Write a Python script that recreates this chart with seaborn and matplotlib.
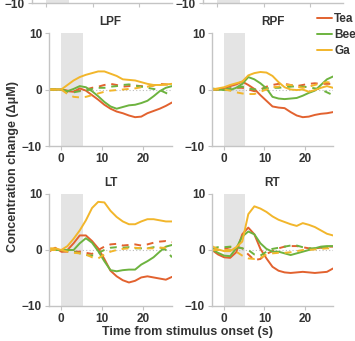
import seaborn as sns
import matplotlib.pyplot as plt
import pandas as pd

# time axis (s)
t = [-3, -1.5, 0, 1.5, 3, 4.5, 6, 7.5, 9, 10.5, 12, 13.5, 15, 16.5, 18, 19.5, 21, 22.5, 24, 25.5, 27]

regions = ["LPF", "RPF", "LT", "RT"]
odors = ["Tea", "Bee", "Ga"]

# solid = stimulus, dashed = control
lpf_tea = [0, 0, 0, -0.3, -0.4, 0.2, -0.2, -1.0, -1.8, -2.7, -3.4, -3.9, -4.2, -4.6, -4.9, -4.8, -4.2, -3.8, -3.4, -2.9, -2.3]
lpf_bee = [0, 0, 0, -0.3, 0.1, 0.6, 0.4, -0.3, -1.2, -2.2, -3.0, -3.4, -3.1, -2.8, -2.7, -2.4, -2.0, -1.2, -0.3, 0.3, 0.6]
lpf_ga = [0, 0, 0, 0.8, 1.6, 2.2, 2.6, 2.9, 3.2, 3.2, 2.8, 2.4, 1.8, 1.7, 1.6, 1.3, 1.0, 0.8, 0.8, 0.9, 1.0]
lpf_tea_c = [0, 0, 0, -0.2, -0.3, -0.2, 0, 0.3, 0.5, 0.8, 1.0, 0.8, 0.5, 0.6, 0.7, 0.6, 0.5, 0.7, 1.0, 0.9, 0.8]
lpf_bee_c = [0, 0, 0, -0.4, -0.5, -0.3, -0.2, 0.1, 0.3, 0.3, 0.5, 0.6, 0.8, 0.9, 0.7, 0.5, 0.3, 0.1, -0.1, -0.6, -1.2]
lpf_ga_c = [0, 0, 0, -0.8, -1.3, -1.4, -1.3, -1.0, -0.7, -0.4, -0.2, -0.1, 0, 0.1, 0.2, 0.4, 0.5, 0.7, 0.8, 0.9, 1.0]

rpf_tea = [0, 0, 0.2, 0.6, 0.9, 1.4, 0.8, 0.1, -1.0, -2.0, -3.0, -3.2, -3.3, -4.0, -4.6, -4.9, -4.8, -4.5, -4.3, -4.2, -4.0]
rpf_bee = [0.2, 0, -0.1, -0.1, 0.3, 1.0, 2.2, 1.8, 1.1, 0.2, -1.3, -1.6, -1.7, -1.6, -1.5, -1.1, -0.6, -0.2, 0.8, 1.8, 2.3]
rpf_ga = [0, 0.2, 0.4, 0.8, 1.1, 1.4, 2.5, 2.9, 3.1, 3.0, 2.4, 1.3, 0.4, 0, -0.1, 0, -0.4, -0.1, 0.3, 0.6, 0.3]
rpf_tea_c = [0, 0, 0, 0.2, 0.3, 0.3, 0, -0.3, 0, 0.5, 0.8, 1.0, 1.0, 0.8, 0.6, 0.8, 1.0, 1.1, 1.0, 1.0, 1.0]
rpf_bee_c = [0, 0, 0, 0.2, 0.3, 0.5, 0.2, 0, 0.1, 0.2, 0.3, 0.3, 0.4, 0.5, 0.6, 0.5, 0.4, 0.2, 0, -0.5, -1.0]
rpf_ga_c = [0, 0, 0, -0.2, -0.5, -0.7, -0.8, -0.8, -0.4, 0, 0.4, 0.5, 0.8, 0.8, 0.5, 0.3, 0.5, 0.8, 1.1, 1.3, 1.2]

lt_tea = [-0.3, 0.4, -0.3, 0, 1.2, 2.6, 2.6, 1.6, 0.3, -1.6, -3.7, -4.7, -5.4, -5.8, -5.5, -4.9, -4.7, -4.9, -5.1, -5.3, -4.8]
lt_bee = [0, 0, 0, 0, 0, 1.2, 2.1, 1.3, -0.2, -2.0, -3.6, -3.8, -3.6, -3.5, -3.5, -2.6, -2.0, -1.3, -0.3, 0.6, 0.9]
lt_ga = [0.3, 0.3, 0, 0.7, 2.0, 3.5, 5.3, 7.5, 8.6, 8.5, 7.0, 5.9, 5.1, 4.6, 4.6, 5.1, 5.5, 5.5, 5.3, 5.1, 5.1]
lt_tea_c = [0, 0, -0.3, -0.3, -0.3, -0.3, -0.5, -0.7, 0, 0.6, 1.0, 1.1, 0.8, 0.9, 1.0, 0.8, 1.0, 1.3, 1.5, 1.6, 1.4]
lt_bee_c = [0, 0, 0, -0.2, -0.3, -0.6, -0.9, -1.0, -0.5, 0, 0.4, 0.5, 0.4, 0.5, 0.3, 0.3, 0.3, 0.5, 0.5, 0, -1.3]
lt_ga_c = [0, 0, 0, -0.3, -0.5, -0.6, -0.8, -1.3, -1.5, -0.8, -0.3, 0, 0.2, 0.3, 0.4, 0.3, 0.3, 0.3, 0.4, 0.4, 0.3]

rt_tea = [0, -0.8, -1.3, -1.4, -0.4, 2.8, 4.0, 2.8, 0.2, -1.5, -3.0, -3.7, -4.0, -4.1, -4.0, -3.9, -4.0, -4.1, -4.0, -3.9, -3.3]
rt_bee = [0.1, -0.5, -1.0, -1.1, 0.3, 2.4, 3.3, 2.8, 1.2, 0.2, -0.3, -0.3, -0.6, -0.9, -0.6, -0.3, 0, 0.3, 0.6, 0.7, 0.7]
rt_ga = [0.7, 0.1, -0.2, -0.2, 0.5, 1.5, 6.4, 7.8, 7.4, 6.8, 6.0, 5.4, 5.0, 4.6, 4.3, 4.8, 4.5, 4.1, 3.5, 2.9, 2.6]
rt_tea_c = [0, 0, 0.2, 0.5, 0.6, 0.3, -0.8, -1.8, -1.6, -0.7, -0.2, 0.3, 0.6, 0.7, 0.7, 0.5, 0.3, 0.3, 0.4, 0.6, 0.6]
rt_bee_c = [0.3, 0.5, 0.5, 0.6, 0.5, 0.3, 0, -0.8, -1.0, -0.3, 0.2, 0.4, 0.6, 0.8, 0.8, 0.5, 0.3, 0.3, 0.4, 0.5, 0.5]
rt_ga_c = [0, 0, 0, 0, -0.3, -1.0, -1.5, -1.6, -1.4, -0.8, -0.6, -0.5, -0.5, -0.4, -0.2, 0, 0, 0.1, 0.2, 0.3, 0.3]

series = {
    "LPF": [lpf_tea, lpf_bee, lpf_ga, lpf_tea_c, lpf_bee_c, lpf_ga_c],
    "RPF": [rpf_tea, rpf_bee, rpf_ga, rpf_tea_c, rpf_bee_c, rpf_ga_c],
    "LT": [lt_tea, lt_bee, lt_ga, lt_tea_c, lt_bee_c, lt_ga_c],
    "RT": [rt_tea, rt_bee, rt_ga, rt_tea_c, rt_bee_c, rt_ga_c],
}

# build a long table
rows = []
for reg in regions:
    for k, vals in enumerate(series[reg]):
        cond = "stim" if k < 3 else "ctrl"
        for ti, v in zip(t, vals):
            rows.append({"region": reg, "odor": odors[k % 3], "cond": cond, "time": ti, "value": v})
df = pd.DataFrame(rows)

sns.set_theme(style="white")
plt.rcParams["font.family"] = ["Liberation Sans", "DejaVu Sans"]
plt.rcParams["font.weight"] = "bold"

palette = {"Tea": "#e2622f", "Bee": "#6db33f", "Ga": "#f2b62b"}
TXT = "#333333"
SPINE = "#c4c4c4"

W, H = 355, 341
fig = plt.figure(figsize=(W / 100, H / 100), dpi=100)

def px_axes(left, top, right, bottom):
    return fig.add_axes([left / W, 1 - bottom / H, (right - left) / W, (bottom - top) / H])

def style_axes(ax):
    ax.set_xlim(-3, 27)
    ax.set_ylim(-10, 10)
    ax.set_xticks([0, 10, 20])
    ax.set_yticks([-10, 0, 10])
    for s in ["top", "right"]:
        ax.spines[s].set_visible(False)
    for s in ["left", "bottom"]:
        ax.spines[s].set_color(SPINE)
        ax.spines[s].set_linewidth(1.0)
    ax.tick_params(axis="both", length=3, width=0.8, color=SPINE, labelsize=8.5,
                   labelcolor=TXT, pad=2, left=True, bottom=True)
    for lab in ax.get_xticklabels() + ax.get_yticklabels():
        lab.set_fontweight("bold")
    ax.set_xlabel("")
    ax.set_ylabel("")
    ax.set_facecolor("none")

# remnants of panels above (cut off at the top edge)
for left in [32, 203]:
    ax = px_axes(left, -110, left + 140, 3)
    ax.axvspan(0, 5, color="#e4e4e4", lw=0, zorder=0)
    style_axes(ax)
    ax.set_xticklabels([])

boxes = {
    "LPF": (49, 33, 172, 146),
    "RPF": (212, 33, 333, 146),
    "LT": (49, 194, 172, 306),
    "RT": (212, 194, 333, 306),
}

for reg in regions:
    ax = px_axes(*boxes[reg])
    ax.axvspan(0, 5.3, color="#e4e4e4", lw=0, zorder=0)
    ax.axhline(0, color="#bdbdbd", lw=0.8, ls=(0, (1, 2)), zorder=1)
    sns.lineplot(data=df[df.region == reg], x="time", y="value", hue="odor", style="cond",
                 hue_order=odors, style_order=["stim", "ctrl"], palette=palette,
                 dashes={"stim": "", "ctrl": (3.5, 3)}, estimator=None, lw=1.4,
                 legend=False, ax=ax)
    style_axes(ax)
    ax.set_title(reg, fontsize=8.5, fontweight="bold", color=TXT, pad=6)

# legend
handles = [plt.Line2D([], [], color=palette[o], lw=1.4) for o in odors]
leg = fig.legend(handles, odors, loc="upper left", bbox_to_anchor=(317 / W, 1 - 13 / H),
                 frameon=False, handlelength=1.3, handletextpad=0.15, labelspacing=0.35,
                 borderaxespad=0, borderpad=0, prop={"size": 8.5, "weight": "bold"})
for txt in leg.get_texts():
    txt.set_color(TXT)

fig.text(13 / W, 1 - 167 / H, "Concentration change (ΔμM)", rotation=90, ha="center", va="center",
         fontsize=9, fontweight="bold", color=TXT)
fig.text(187 / W, 1 - 332 / H, "Time from stimulus onset (s)", ha="center", va="center",
         fontsize=9, fontweight="bold", color=TXT)

fig.savefig("out.png", dpi=100)
